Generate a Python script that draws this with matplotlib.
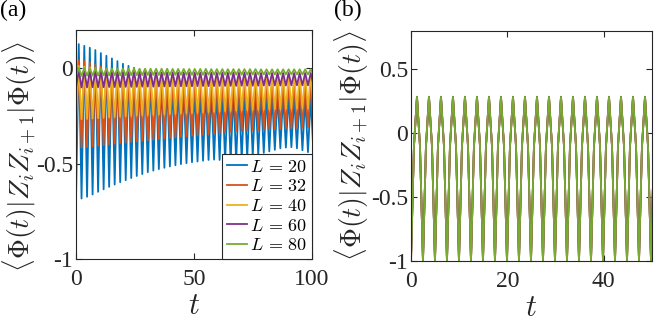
import numpy as np
import matplotlib
matplotlib.use('Agg')
import matplotlib.pyplot as plt

plt.rcParams['font.family'] = ['Liberation Serif', 'DejaVu Serif']
plt.rcParams['mathtext.fontset'] = 'cm'

# MATLAB default line colours
colors = ['#0072BD', '#D95319', '#EDB120', '#7E2F8E', '#77AC30']
labels = ['$L\\,=\\,20$', '$L\\,=\\,32$', '$L\\,=\\,40$', '$L\\,=\\,60$', '$L\\,=\\,80$']

# panel (a): oscillation period and the value at every trough / peak
period_a = 2.34
blue_tr = [-0.690, -0.683, -0.674, -0.662, -0.648, -0.635, -0.622, -0.610, -0.598, -0.587,
           -0.576, -0.565, -0.555, -0.545, -0.537, -0.529, -0.522, -0.515, -0.509, -0.503,
           -0.498, -0.493, -0.489, -0.485, -0.481, -0.479, -0.481, -0.485, -0.488, -0.484,
           -0.476, -0.468, -0.460, -0.452, -0.444, -0.436, -0.428, -0.420, -0.416, -0.414,
           -0.420, -0.430, -0.440, -0.445]
blue_pk = [0.126, 0.117, 0.107, 0.095, 0.079, 0.065, 0.051, 0.037, 0.023, 0.012,
           0.002, -0.008, -0.018, -0.028, -0.038, -0.048, -0.056, -0.064, -0.072, -0.080,
           -0.087, -0.094, -0.100, -0.105, -0.110, -0.114, -0.118, -0.121, -0.124, -0.127,
           -0.130, -0.132, -0.134, -0.136, -0.138, -0.140, -0.142, -0.144, -0.146, -0.148,
           -0.150, -0.152, -0.154]
orange_tr = [-0.420, -0.416, -0.413, -0.410, -0.406, -0.403, -0.400, -0.396, -0.393, -0.390,
             -0.387, -0.384, -0.381, -0.378, -0.375, -0.372, -0.369, -0.366, -0.363, -0.360,
             -0.357, -0.354, -0.351, -0.348, -0.345, -0.342, -0.339, -0.336, -0.333, -0.330,
             -0.328, -0.327, -0.325, -0.324, -0.322, -0.321, -0.319, -0.318, -0.316, -0.315,
             -0.313, -0.312, -0.310, -0.309]
orange_pk = [0.042, 0.037, 0.030, 0.019, 0.008, -0.002, -0.010, -0.018, -0.025, -0.030,
             -0.034, -0.037, -0.040, -0.042, -0.044, -0.046, -0.048, -0.050, -0.051, -0.052,
             -0.053, -0.054, -0.055, -0.056, -0.057, -0.058, -0.059, -0.060, -0.061, -0.062,
             -0.063, -0.064, -0.065, -0.066, -0.067, -0.068, -0.069, -0.070, -0.071, -0.072,
             -0.073, -0.074, -0.075]
yellow_tr = [-0.270, -0.268, -0.266, -0.264, -0.262, -0.260, -0.258, -0.256, -0.254, -0.252,
             -0.250, -0.248, -0.247, -0.246, -0.245, -0.243, -0.242, -0.240, -0.239, -0.237,
             -0.236, -0.234, -0.233, -0.231, -0.230, -0.228, -0.227, -0.225, -0.224, -0.222,
             -0.221, -0.220, -0.219, -0.218, -0.217, -0.216, -0.215, -0.214, -0.213, -0.212,
             -0.211, -0.210, -0.210, -0.209]
yellow_pk = [0.012, 0.008, 0.004, 0.000, -0.004, -0.008, -0.011, -0.014, -0.016, -0.018,
             -0.020, -0.021, -0.022, -0.023, -0.024, -0.025, -0.025, -0.026, -0.026, -0.027,
             -0.027, -0.028, -0.028, -0.029, -0.029, -0.030, -0.030, -0.030, -0.031, -0.031,
             -0.031, -0.032, -0.032, -0.032, -0.033, -0.033, -0.033, -0.034, -0.034, -0.034,
             -0.035, -0.035, -0.035]
purple_tr = [-0.102, -0.101, -0.101, -0.100, -0.100, -0.100, -0.099, -0.099, -0.099, -0.098,
             -0.098, -0.098, -0.097, -0.097, -0.097, -0.096, -0.096, -0.096, -0.095, -0.095,
             -0.095, -0.095, -0.094, -0.094, -0.094, -0.094, -0.093, -0.093, -0.093, -0.093,
             -0.092, -0.092, -0.092, -0.092, -0.091, -0.091, -0.091, -0.091, -0.091, -0.090,
             -0.090, -0.090, -0.090, -0.090]
purple_pk = [-0.012, -0.014, -0.016, -0.017, -0.018, -0.019, -0.020, -0.020, -0.021, -0.021,
             -0.021, -0.022, -0.022, -0.022, -0.022, -0.023, -0.023, -0.023, -0.023, -0.023,
             -0.024, -0.024, -0.024, -0.024, -0.024, -0.024, -0.024, -0.024, -0.024, -0.024,
             -0.024, -0.024, -0.025, -0.025, -0.025, -0.025, -0.025, -0.025, -0.025, -0.025,
             -0.025, -0.025, -0.025]
green_tr = [-0.040, -0.040, -0.039, -0.039, -0.039, -0.038, -0.038, -0.038, -0.038, -0.037,
            -0.037, -0.037, -0.037, -0.036, -0.036, -0.036, -0.036, -0.036, -0.035, -0.035,
            -0.035, -0.035, -0.035, -0.035, -0.034, -0.034, -0.034, -0.034, -0.034, -0.034,
            -0.034, -0.034, -0.033, -0.033, -0.033, -0.033, -0.033, -0.033, -0.033, -0.033,
            -0.033, -0.033, -0.033, -0.033]
green_pk = [0.000, 0.000, -0.001, -0.001, -0.001, -0.001, -0.002, -0.002, -0.002, -0.002,
            -0.002, -0.003, -0.003, -0.003, -0.003, -0.003, -0.003, -0.004, -0.004, -0.004,
            -0.004, -0.004, -0.004, -0.004, -0.005, -0.005, -0.005, -0.005, -0.005, -0.005,
            -0.005, -0.005, -0.005, -0.006, -0.006, -0.006, -0.006, -0.006, -0.006, -0.006,
            -0.006, -0.006, -0.006]

# panel (b): all sizes lie on top of each other; values at trough, rising quarter,
# peak and falling quarter of each cycle
period_b = 2.49
b_tr = [-1.0, -1.0, -1.0, -1.0, -1.0, -1.0, -1.0, -1.0, -1.0, -1.0, -1.0,
        -1.0, -1.0, -1.0, -1.0, -1.0, -1.0, -1.0, -1.0, -1.0, -1.0]
b_up = [-0.10, -0.10, -0.10, -0.10, -0.10, -0.10, -0.10, -0.10, -0.10, -0.10, -0.10,
        -0.10, -0.10, -0.10, -0.10, -0.10, -0.10, -0.10, -0.10, -0.10, -0.10]
b_pk = [0.285, 0.285, 0.285, 0.285, 0.285, 0.285, 0.285, 0.285, 0.285, 0.285,
        0.285, 0.285, 0.285, 0.285, 0.285, 0.285, 0.285, 0.285, 0.285, 0.285]
b_dn = [-0.10, -0.10, -0.10, -0.10, -0.10, -0.10, -0.10, -0.10, -0.10, -0.10,
        -0.10, -0.10, -0.10, -0.10, -0.10, -0.10, -0.10, -0.10, -0.10, -0.10]


def cycle_points(parts, period):
    """Interleave per-cycle values (equally spaced phases) into one time series."""
    k = len(parts)
    n = sum(len(p) for p in parts)
    t = np.arange(n) * period / k
    y = np.array([parts[i % k][i // k] for i in range(n)])
    return t, y


series_a = [(blue_tr, blue_pk), (orange_tr, orange_pk), (yellow_tr, yellow_pk),
            (purple_tr, purple_pk), (green_tr, green_pk)]

fig = plt.figure(figsize=(6.65, 3.22), dpi=100)
ax1 = fig.add_axes([0.1143, 0.1957, 0.3549, 0.7111])
ax2 = fig.add_axes([0.6180, 0.1894, 0.3624, 0.7143])

for (tr, pk), c, lab in zip(series_a, colors, labels):
    t, y = cycle_points([tr, pk], period_a)
    ax1.plot(t, y, color=c, lw=1.3, label=lab)

tb, yb = cycle_points([b_tr, b_up, b_pk, b_dn], period_b)
for c in colors:
    ax2.plot(tb, yb, color=c, lw=1.3)

ylab = r'$\langle\Phi(t)|Z_iZ_{i+1}|\Phi(t)\rangle$'

ax1.set_xlim(0, 100)
ax1.set_ylim(-1, 0.2)
ax1.set_xticks([0, 50, 100])
ax1.set_yticks([-1, -0.5, 0])
ax1.set_yticklabels(['-1', '-0.5', '0'])

ax2.set_xlim(0, 50)
ax2.set_ylim(-1, 0.8)
ax2.set_xticks([0, 20, 40])
ax2.set_yticks([-1, -0.5, 0, 0.5])
ax2.set_yticklabels(['-1', '-0.5', '0', '0.5'])

for ax in (ax1, ax2):
    ax.tick_params(direction='in', top=True, right=True, length=4, width=0.8,
                   labelsize=17, color='#262626', labelcolor='#262626')
    ax.tick_params(axis='x', pad=7)
    ax.tick_params(axis='y', pad=2)
    for s in ax.spines.values():
        s.set_color('#262626')
        s.set_linewidth(0.8)
    ax.set_xlabel('$t$', fontsize=22, color='#262626')
    ax.set_ylabel(ylab, fontsize=20, color='#262626')

ax1.xaxis.set_label_coords(0.5, -0.145)
ax2.xaxis.set_label_coords(0.5, -0.145)
ax1.yaxis.set_label_coords(-0.155, 0.445)
ax2.yaxis.set_label_coords(-0.165, 0.5)

leg = ax1.legend(loc='lower right', fontsize=13, handlelength=1.1, handletextpad=0.2,
                 labelspacing=0.15, borderaxespad=0, borderpad=0.25, fancybox=False,
                 framealpha=1, edgecolor='#262626')
leg.get_frame().set_linewidth(0.8)

fig.text(0.0, 1.0, '(a)', fontsize=17, va='top', ha='left')
fig.text(0.503, 1.0, '(b)', fontsize=17, va='top', ha='left')

fig.savefig('out.png', dpi=100)
